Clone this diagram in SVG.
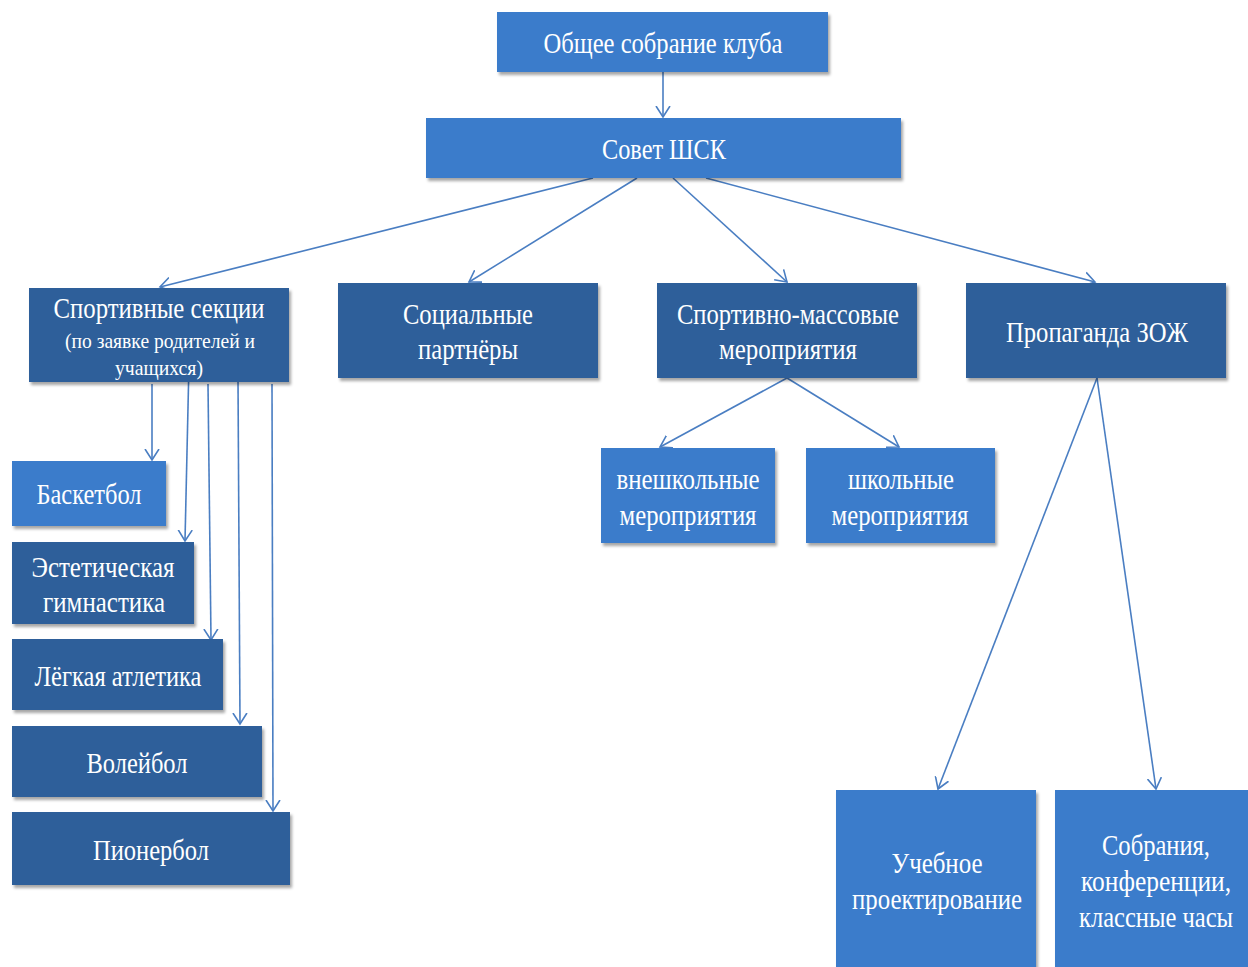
<svg xmlns="http://www.w3.org/2000/svg" width="1248" height="967" viewBox="0 0 1248 967">
<defs>
<filter id="sh" x="-5%" y="-5%" width="115%" height="120%">
<feDropShadow dx="2" dy="3" stdDeviation="1.6" flood-color="#000" flood-opacity="0.35"/>
</filter>
<marker id="ar" markerUnits="userSpaceOnUse" markerWidth="16" markerHeight="16" refX="11" refY="7" orient="auto" viewBox="0 0 16 14">
<path d="M0,0 L11,7 L0,14" fill="none" stroke="#4a7ec2" stroke-width="1.6"/>
</marker>
<style>
.l{fill:#3a7ccb;filter:url(#sh)}
.d{fill:#2d5e9a;filter:url(#sh)}
text{font-family:"Liberation Serif","Times New Roman",serif;fill:#ffffff;text-anchor:middle;font-size:30px}
.s{font-size:22px}
#connectors line{stroke:#4a7ec2;stroke-width:1.6;marker-end:url(#ar)}
</style>
</defs>
<rect width="1248" height="967" fill="#ffffff"/>
<g id="connectors">
<line x1="663" y1="72" x2="663" y2="117"/>
<line x1="593" y1="178" x2="160" y2="287"/>
<line x1="637" y1="178" x2="469" y2="282"/>
<line x1="673" y1="178" x2="787" y2="282"/>
<line x1="706" y1="178" x2="1095" y2="282"/>
<line x1="787" y1="378" x2="660" y2="447"/>
<line x1="787" y1="378" x2="899" y2="447"/>
<line x1="1097" y1="378" x2="938" y2="789"/>
<line x1="1097" y1="378" x2="1156" y2="789"/>
<line x1="152" y1="384" x2="152" y2="460"/>
<line x1="189" y1="363" x2="185" y2="541"/>
<line x1="208" y1="384" x2="211" y2="640"/>
<line x1="238" y1="379" x2="240" y2="724"/>
<line x1="272" y1="384" x2="273" y2="811"/>
</g>
<g id="n-obshchee"><rect class="l" x="497" y="12" width="331" height="60"/><text x="663" y="53" textLength="239" lengthAdjust="spacingAndGlyphs">Общее собрание клуба</text></g>
<g id="n-sovet"><rect class="l" x="426" y="118" width="475" height="60"/><text x="664" y="159" textLength="124" lengthAdjust="spacingAndGlyphs">Совет ШСК</text></g>
<g id="n-sekcii"><rect class="d" x="29" y="288" width="260" height="94"/><text x="159" y="318" textLength="211" lengthAdjust="spacingAndGlyphs">Спортивные секции</text><text class="s" x="160" y="348" textLength="190" lengthAdjust="spacingAndGlyphs">(по заявке родителей и</text><text class="s" x="159" y="375" textLength="88" lengthAdjust="spacingAndGlyphs">учащихся)</text></g>
<g id="n-partnery"><rect class="d" x="338" y="283" width="260" height="95"/><text x="468" y="324" textLength="130" lengthAdjust="spacingAndGlyphs">Социальные</text><text x="468" y="359" textLength="100" lengthAdjust="spacingAndGlyphs">партнёры</text></g>
<g id="n-massovye"><rect class="d" x="657" y="283" width="260" height="95"/><text x="788" y="324" textLength="222" lengthAdjust="spacingAndGlyphs">Спортивно-массовые</text><text x="788" y="359" textLength="138" lengthAdjust="spacingAndGlyphs">мероприятия</text></g>
<g id="n-zozh"><rect class="d" x="966" y="283" width="260" height="95"/><text x="1097" y="342" textLength="182" lengthAdjust="spacingAndGlyphs">Пропаганда ЗОЖ</text></g>
<g id="n-vneshkolnye"><rect class="l" x="601" y="448" width="174" height="95"/><text x="688" y="489" textLength="143" lengthAdjust="spacingAndGlyphs">внешкольные</text><text x="688" y="525" textLength="137" lengthAdjust="spacingAndGlyphs">мероприятия</text></g>
<g id="n-shkolnye"><rect class="l" x="806" y="448" width="189" height="95"/><text x="901" y="489" textLength="106" lengthAdjust="spacingAndGlyphs">школьные</text><text x="900" y="525" textLength="137" lengthAdjust="spacingAndGlyphs">мероприятия</text></g>
<g id="n-basketbol"><rect class="l" x="12" y="461" width="154" height="65"/><text x="89" y="504" textLength="105" lengthAdjust="spacingAndGlyphs">Баскетбол</text></g>
<g id="n-gimnastika"><rect class="d" x="12" y="542" width="182" height="82"/><text x="103" y="577" textLength="143" lengthAdjust="spacingAndGlyphs">Эстетическая</text><text x="104" y="612" textLength="122" lengthAdjust="spacingAndGlyphs">гимнастика</text></g>
<g id="n-atletika"><rect class="d" x="12" y="639" width="211" height="71"/><text x="118" y="686" textLength="167" lengthAdjust="spacingAndGlyphs">Лёгкая атлетика</text></g>
<g id="n-voleybol"><rect class="d" x="12" y="726" width="250" height="71"/><text x="137" y="773" textLength="101" lengthAdjust="spacingAndGlyphs">Волейбол</text></g>
<g id="n-pionerbol"><rect class="d" x="12" y="812" width="278" height="73"/><text x="151" y="860" textLength="116" lengthAdjust="spacingAndGlyphs">Пионербол</text></g>
<g id="n-proekt"><rect class="l" x="836" y="790" width="200" height="177"/><text x="937" y="873" textLength="91" lengthAdjust="spacingAndGlyphs">Учебное</text><text x="937" y="909" textLength="170" lengthAdjust="spacingAndGlyphs">проектирование</text></g>
<g id="n-sobraniya"><rect class="l" x="1055" y="790" width="193" height="177"/><text x="1156" y="855" textLength="108" lengthAdjust="spacingAndGlyphs">Собрания,</text><text x="1156" y="891" textLength="150" lengthAdjust="spacingAndGlyphs">конференции,</text><text x="1156" y="927" textLength="154" lengthAdjust="spacingAndGlyphs">классные часы</text></g>
</svg>
